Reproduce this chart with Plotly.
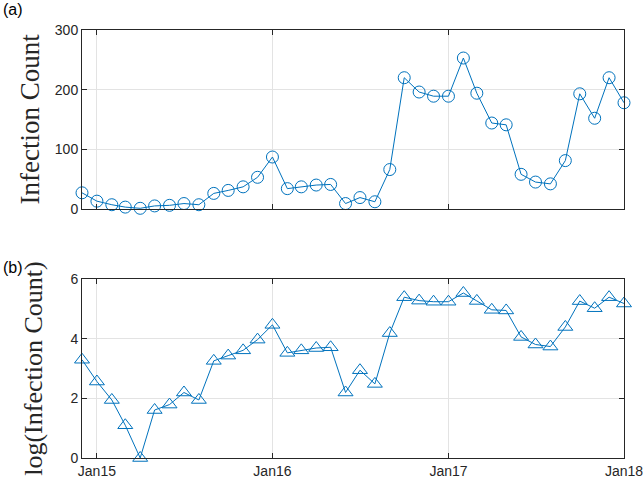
import numpy as np
import pandas as pd
import plotly.graph_objects as go
from plotly.subplots import make_subplots

dates = pd.date_range("2014-12-01", "2018-01-01", freq="MS")
counts = [27, 13, 7, 3, 1, 5, 6, 9, 7, 26, 31, 37, 53, 87,
          34, 37, 40, 41, 9, 19, 12, 66, 220, 196, 189, 189,
          253, 194, 144, 141, 58, 45, 42, 81, 193, 152, 220, 178]
log_counts = np.log(np.array(counts, dtype=float))

xtick_vals = ["2015-01-01", "2016-01-01", "2017-01-01", "2018-01-01"]
xtick_text = ["Jan15", "Jan16", "Jan17", "Jan18"]
ytick_top = [0, 100, 200, 300]
ytick_bot = [0, 2, 4, 6]

blue = "#0072BD"
axcol = "#262626"
gridcol = "#E3E3E3"

fig = make_subplots(rows=2, cols=1, vertical_spacing=0.164)

fig.add_trace(go.Scatter(x=dates, y=counts, mode="lines+markers",
                         line=dict(color=blue, width=1),
                         marker=dict(symbol="circle-open", size=12, color=blue, line=dict(width=1)),
                         cliponaxis=False, showlegend=False), row=1, col=1)
fig.add_trace(go.Scatter(x=dates, y=log_counts, mode="lines+markers",
                         line=dict(color=blue, width=1),
                         marker=dict(symbol="triangle-up-open", size=13, color=blue, line=dict(width=1)),
                         cliponaxis=False, showlegend=False), row=2, col=1)

common_x = dict(range=["2014-12-01", "2018-01-01"], tickvals=xtick_vals, ticktext=xtick_text,
                showline=True, linecolor=axcol, linewidth=1, mirror="ticks",
                ticks="inside", ticklen=5, tickcolor=axcol, automargin=False,
                showgrid=True, gridcolor=gridcol, gridwidth=1, zeroline=False,
                tickfont=dict(family="Liberation Sans, Arial", size=14, color=axcol))
fig.update_xaxes(**common_x)
fig.update_xaxes(showticklabels=False, row=1, col=1)

common_y = dict(showline=True, linecolor=axcol, linewidth=1, mirror="ticks",
                ticks="inside", ticklen=5, tickcolor=axcol, automargin=False,
                showgrid=True, gridcolor=gridcol, gridwidth=1, zeroline=False,
                tickfont=dict(family="Liberation Sans, Arial", size=14, color=axcol))
fig.update_yaxes(**common_y)
fig.update_yaxes(range=[0, 300], tickvals=ytick_top,
                 title=dict(text="Infection Count", standoff=7,
                            font=dict(family="Liberation Serif, Times New Roman", size=27, color=axcol)),
                 row=1, col=1)
fig.update_yaxes(range=[0, 6], tickvals=ytick_bot,
                 title=dict(text="log(Infection Count)", standoff=20,
                            font=dict(family="Liberation Serif, Times New Roman", size=26, color=axcol)),
                 row=2, col=1)

fig.add_annotation(text="(a)", xref="paper", yref="paper", x=-0.149, y=1.047,
                   xanchor="left", yanchor="middle", showarrow=False,
                   font=dict(family="Liberation Sans, Arial", size=16, color="black"))
fig.add_annotation(text="(b)", xref="paper", yref="paper", x=-0.149, y=0.444,
                   xanchor="left", yanchor="middle", showarrow=False,
                   font=dict(family="Liberation Sans, Arial", size=16, color="black"))

fig.update_layout(width=644, height=480, margin=dict(l=82, r=20, t=30, b=22, autoexpand=False),
                  paper_bgcolor="white", plot_bgcolor="white")

fig.write_html("out.html", config={"displayModeBar": False},
               post_script="document.body.style.margin='0';")
